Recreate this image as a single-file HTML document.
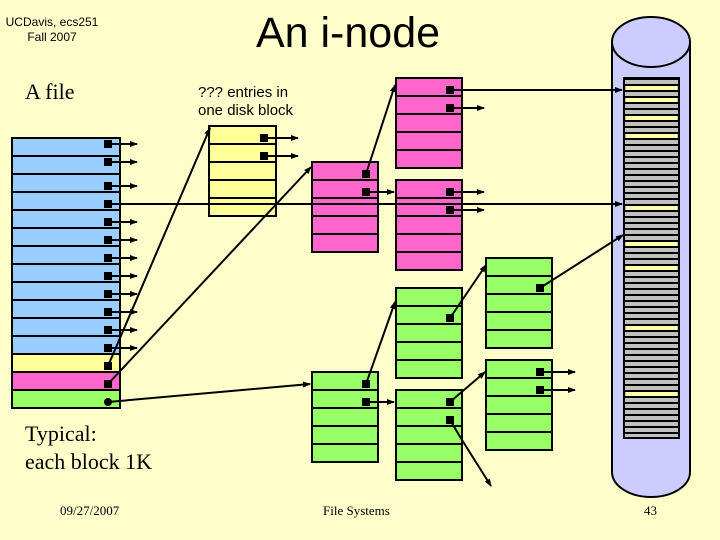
<!DOCTYPE html>
<html><head><meta charset="utf-8"><style>
body{margin:0;background:#ffffcc;}
svg{display:block}
.s{font-family:"Liberation Sans",sans-serif}
.r{font-family:"Liberation Serif",serif}
</style></head><body>
<svg width="720" height="540" viewBox="0 0 720 540" xmlns="http://www.w3.org/2000/svg">
<defs>
<marker id="a" markerWidth="8" markerHeight="8" refX="7" refY="4" orient="auto" markerUnits="userSpaceOnUse"><path d="M0,1 L8,4 L0,7z" fill="#000"/></marker>
<pattern id="st" x="624" y="78" width="10" height="6" patternUnits="userSpaceOnUse"><rect width="10" height="6" fill="#c0c0c0"/><rect width="10" height="2" fill="#000"/></pattern>
</defs>
<rect width="720" height="540" fill="#ffffcc"/>
<text x="52" y="26" class="s" font-size="12" text-anchor="middle">UCDavis, ecs251</text>
<text x="52" y="41" class="s" font-size="12" text-anchor="middle">Fall 2007</text>
<text x="348" y="47" class="s" font-size="43" text-anchor="middle">An i-node</text>
<text x="25" y="99" class="r" font-size="22">A file</text>
<text x="198" y="97" class="s" font-size="15">??? entries in</text>
<text x="198" y="115" class="s" font-size="15">one disk block</text>
<text x="25" y="441" class="r" font-size="22">Typical:</text>
<text x="25" y="469" class="r" font-size="22">each block 1K</text>
<text x="60" y="515" class="r" font-size="13">09/27/2007</text>
<text x="323" y="515" class="r" font-size="13">File Systems</text>
<text x="644" y="515" class="r" font-size="13">43</text>
<!-- cylinder -->
<path d="M612,42 L612,472 A39,25 0 0 0 690,472 L690,42" fill="#ccccff" stroke="#000" stroke-width="2"/>
<ellipse cx="651" cy="42" rx="39" ry="25" fill="#ccccff" stroke="#000" stroke-width="2"/>
<rect x="624" y="78" width="55" height="360" fill="url(#st)" stroke="#000" stroke-width="2"/>
<g fill="#ffffaa">
<rect x="626" y="86" width="51" height="4"/><rect x="626" y="98" width="51" height="4"/><rect x="626" y="116" width="51" height="4"/><rect x="626" y="134" width="51" height="4"/><rect x="626" y="206" width="51" height="4"/><rect x="626" y="242" width="51" height="4"/><rect x="626" y="266" width="51" height="4"/><rect x="626" y="326" width="51" height="4"/><rect x="626" y="392" width="51" height="4"/>
</g>
<g stroke="#000" stroke-width="2">
<rect x="12" y="138" width="108" height="216" fill="#99ccff"/>
<rect x="12" y="354" width="108" height="18" fill="#ffff99"/>
<rect x="12" y="372" width="108" height="18" fill="#ff66cc"/>
<rect x="12" y="390" width="108" height="18" fill="#99ff66"/>
<path d="M12,156H120M12,174H120M12,192H120M12,210H120M12,228H120M12,246H120M12,264H120M12,282H120M12,300H120M12,318H120M12,336H120"/>
<rect x="209" y="126" width="67" height="90" fill="#ffff99"/>
<path d="M209,144H276M209,162H276M209,180H276M209,198H276"/>
<rect x="396" y="78" width="66" height="90" fill="#ff66cc"/><path d="M396,96H462M396,114H462M396,132H462M396,150H462"/>
<rect x="312" y="162" width="66" height="90" fill="#ff66cc"/><path d="M312,180H378M312,198H378M312,216H378M312,234H378"/>
<rect x="396" y="180" width="66" height="90" fill="#ff66cc"/><path d="M396,198H462M396,216H462M396,234H462M396,252H462"/>
<rect x="396" y="288" width="66" height="90" fill="#99ff66"/><path d="M396,306H462M396,324H462M396,342H462M396,360H462"/>
<rect x="486" y="258" width="66" height="90" fill="#99ff66"/><path d="M486,276H552M486,294H552M486,312H552M486,330H552"/>
<rect x="312" y="372" width="66" height="90" fill="#99ff66"/><path d="M312,390H378M312,408H378M312,426H378M312,444H378"/>
<rect x="396" y="390" width="66" height="90" fill="#99ff66"/><path d="M396,408H462M396,426H462M396,444H462M396,462H462"/>
<rect x="486" y="360" width="66" height="90" fill="#99ff66"/><path d="M486,378H552M486,396H552M486,414H552M486,432H552"/>
</g>
<g stroke="#000" stroke-width="2" marker-end="url(#a)" fill="none">
<path d="M108,144H137"/><path d="M108,162H137"/><path d="M108,186H137"/><path d="M108,222H137"/><path d="M108,240H137"/><path d="M108,258H137"/><path d="M108,276H137"/><path d="M108,294H137"/><path d="M108,312H137"/><path d="M108,330H137"/><path d="M108,348H137"/>
<path d="M108,204H622"/>
<path d="M108,366L210,128"/>
<path d="M108,384L311,167"/>
<path d="M108,402L310,384"/>
<path d="M264,138H298"/><path d="M264,156H298"/>
<path d="M366,174L395,85"/><path d="M366,192H394"/>
<path d="M450,90H622"/><path d="M450,108H484"/>
<path d="M450,192H484"/><path d="M450,210H484"/>
<path d="M366,384L395,302"/><path d="M366,402H394"/>
<path d="M450,318L486,265"/>
<path d="M540,288L623,235"/>
<path d="M450,402L485,372"/>
<path d="M450,420L462,440L491,486"/>
<path d="M540,372H575"/><path d="M540,390H575"/>
</g>
<g fill="#000">
<rect x="104" y="140" width="8" height="8"/><rect x="104" y="158" width="8" height="8"/><rect x="104" y="182" width="8" height="8"/><rect x="104" y="200" width="8" height="8"/><rect x="104" y="218" width="8" height="8"/><rect x="104" y="236" width="8" height="8"/><rect x="104" y="254" width="8" height="8"/><rect x="104" y="272" width="8" height="8"/><rect x="104" y="290" width="8" height="8"/><rect x="104" y="308" width="8" height="8"/><rect x="104" y="326" width="8" height="8"/><rect x="104" y="344" width="8" height="8"/>
<rect x="104" y="362" width="8" height="8"/><rect x="104" y="380" width="8" height="8"/><circle cx="108" cy="402" r="4"/>
<rect x="260" y="134" width="8" height="8"/><rect x="260" y="152" width="8" height="8"/>
<rect x="362" y="170" width="8" height="8"/><rect x="362" y="188" width="8" height="8"/>
<rect x="446" y="86" width="8" height="8"/><rect x="446" y="104" width="8" height="8"/>
<rect x="446" y="188" width="8" height="8"/><rect x="446" y="206" width="8" height="8"/>
<rect x="362" y="380" width="8" height="8"/><rect x="362" y="398" width="8" height="8"/>
<rect x="446" y="314" width="8" height="8"/>
<rect x="536" y="284" width="8" height="8"/>
<rect x="446" y="398" width="8" height="8"/><rect x="446" y="416" width="8" height="8"/>
<rect x="536" y="368" width="8" height="8"/><rect x="536" y="386" width="8" height="8"/>
</g>
</svg>
</body></html>
